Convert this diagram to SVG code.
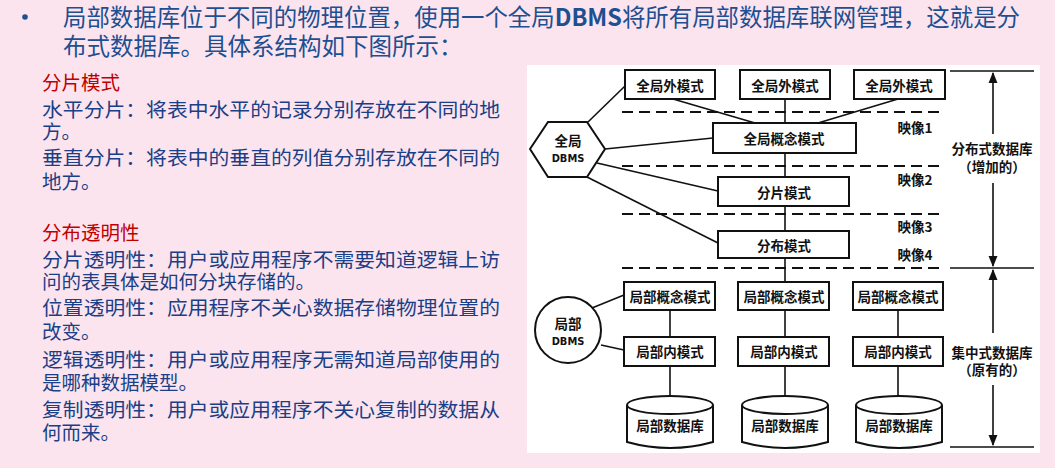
<svg xmlns="http://www.w3.org/2000/svg" width="1055" height="468" viewBox="0 0 1055 468">
<defs>
<style>
.hd{font-family:"Noto Sans CJK SC","Noto Sans",sans-serif;font-size:23.5px;fill:#1d4f91}
.bt{font-family:"Noto Sans CJK SC",sans-serif;font-size:19.5px;fill:#1a3f86}
.rt{font-family:"Noto Sans CJK SC",sans-serif;font-size:19.5px;fill:#c00000}
.bx{fill:#fff;stroke:#111;stroke-width:2}
.lb{font-family:"Noto Sans CJK SC","DejaVu Sans",sans-serif;font-size:13.5px;font-weight:bold;fill:#111;text-anchor:middle;dominant-baseline:central}
.sm{font-family:"DejaVu Sans Condensed","DejaVu Sans",sans-serif;font-size:11px;font-weight:bold;fill:#111;text-anchor:middle;dominant-baseline:central}
.ln{stroke:#111;stroke-width:1.6;fill:none}
.ds{stroke:#111;stroke-width:2;stroke-dasharray:11 6;fill:none}
</style>
<marker id="ah" viewBox="0 0 10 10" refX="9" refY="5" markerWidth="7" markerHeight="9" orient="auto"><path d="M0,1 L10,5 L0,9 z" fill="#111"/></marker>
</defs>
<rect width="1055" height="468" fill="#fce4ef"/>
<g id="text-left">
<circle cx="25" cy="17" r="2.8" fill="#1d4f91"/>
<text class="hd" x="63" y="26" textLength="957" lengthAdjust="spacingAndGlyphs">局部数据库位于不同的物理位置，使用一个全局<tspan font-weight="bold">DBMS</tspan>将所有局部数据库联网管理，这就是分</text>
<text class="hd" x="63" y="55">布式数据库。具体系结构如下图所示：</text>
<text class="rt" x="42" y="90">分片模式</text>
<text class="bt" x="42" y="117" textLength="458" lengthAdjust="spacingAndGlyphs">水平分片：将表中水平的记录分别存放在不同的地</text>
<text class="bt" x="42" y="139">方。</text>
<text class="bt" x="42" y="165" textLength="458" lengthAdjust="spacingAndGlyphs">垂直分片：将表中的垂直的列值分别存放在不同的</text>
<text class="bt" x="42" y="189">地方。</text>
<text class="rt" x="42" y="240">分布透明性</text>
<text class="bt" x="42" y="267" textLength="458" lengthAdjust="spacingAndGlyphs">分片透明性：用户或应用程序不需要知道逻辑上访</text>
<text class="bt" x="42" y="289">问的表具体是如何分块存储的。</text>
<text class="bt" x="42" y="315" textLength="458" lengthAdjust="spacingAndGlyphs">位置透明性：应用程序不关心数据存储物理位置的</text>
<text class="bt" x="42" y="339">改变。</text>
<text class="bt" x="42" y="367" textLength="458" lengthAdjust="spacingAndGlyphs">逻辑透明性：用户或应用程序无需知道局部使用的</text>
<text class="bt" x="42" y="390">是哪种数据模型。</text>
<text class="bt" x="42" y="417" textLength="458" lengthAdjust="spacingAndGlyphs">复制透明性：用户或应用程序不关心复制的数据从</text>
<text class="bt" x="42" y="440">何而来。</text>
</g>
<rect x="527" y="65" width="513" height="388" fill="#fff"/>
<g id="connectors">
<line class="ds" x1="622" y1="112" x2="945" y2="112"/>
<line class="ds" x1="622" y1="166" x2="945" y2="166"/>
<line class="ds" x1="622" y1="214" x2="945" y2="214"/>
<line class="ds" x1="622" y1="268" x2="945" y2="268"/>
<line class="ln" x1="950" y1="71" x2="1034" y2="71"/>
<line class="ln" x1="950" y1="268" x2="1034" y2="268"/>
<line class="ln" x1="950" y1="447" x2="1034" y2="447"/>
<line class="ln" x1="993" y1="134" x2="993" y2="73" marker-end="url(#ah)"/>
<line class="ln" x1="993" y1="183" x2="993" y2="266" marker-end="url(#ah)"/>
<line class="ln" x1="993" y1="333" x2="993" y2="270" marker-end="url(#ah)"/>
<line class="ln" x1="993" y1="385" x2="993" y2="445" marker-end="url(#ah)"/>
<line class="ln" x1="785" y1="99" x2="785" y2="282"/>
<line class="ln" x1="673" y1="99" x2="755" y2="123"/>
<line class="ln" x1="898" y1="99" x2="818" y2="123"/>
<line class="ln" x1="588" y1="122" x2="625" y2="86"/>
<line class="ln" x1="605" y1="149" x2="713" y2="138"/>
<line class="ln" x1="597" y1="163" x2="718" y2="191"/>
<line class="ln" x1="587" y1="177" x2="718" y2="243"/>
<line class="ln" x1="670" y1="310" x2="670" y2="337"/>
<line class="ln" x1="670" y1="366" x2="670" y2="397"/>
<line class="ln" x1="785" y1="310" x2="785" y2="337"/>
<line class="ln" x1="785" y1="366" x2="785" y2="397"/>
<line class="ln" x1="898" y1="310" x2="898" y2="337"/>
<line class="ln" x1="898" y1="366" x2="898" y2="397"/>
<line class="ln" x1="592" y1="308" x2="624" y2="295"/>
<line class="ln" x1="601" y1="345" x2="624" y2="350"/>
</g>
<g id="global-dbms">
<polygon class="bx" points="530,149 548,122 587,122 605,149 587,177 548,177"/>
<text class="lb" x="568" y="140">全局</text>
<text class="sm" x="568" y="158">DBMS</text>
</g>
<g id="ext1"><rect class="bx" x="625" y="70" width="90" height="29"/><text class="lb" x="670" y="85">全局外模式</text></g>
<g id="ext2"><rect class="bx" x="740" y="70" width="90" height="29"/><text class="lb" x="785" y="85">全局外模式</text></g>
<g id="ext3"><rect class="bx" x="854" y="70" width="91" height="29"/><text class="lb" x="899" y="85">全局外模式</text></g>
<g id="gconcept"><rect class="bx" x="713" y="123" width="143" height="30"/><text class="lb" x="784" y="138">全局概念模式</text></g>
<g id="frag"><rect class="bx" x="718" y="177" width="131" height="29"/><text class="lb" x="784" y="192">分片模式</text></g>
<g id="dist"><rect class="bx" x="718" y="231" width="131" height="27"/><text class="lb" x="784" y="245">分布模式</text></g>
<g id="map-labels">
<text class="lb" x="915" y="127">映像1</text>
<text class="lb" x="915" y="179">映像2</text>
<text class="lb" x="915" y="226">映像3</text>
<text class="lb" x="915" y="254">映像4</text>
<text class="lb" x="992" y="148">分布式数据库</text>
<text class="lb" x="992" y="166">（增加的）</text>
<text class="lb" x="992" y="352">集中式数据库</text>
<text class="lb" x="992" y="369">（原有的）</text>
</g>
<g id="local-dbms">
<circle class="bx" cx="568" cy="330" r="33"/>
<text class="lb" x="568" y="323">局部</text>
<text class="sm" x="568" y="341">DBMS</text>
</g>
<g id="lc1"><rect class="bx" x="624" y="282" width="91" height="28"/><text class="lb" x="670" y="296">局部概念模式</text></g>
<g id="lc2"><rect class="bx" x="738" y="282" width="91" height="28"/><text class="lb" x="784" y="296">局部概念模式</text></g>
<g id="lc3"><rect class="bx" x="853" y="282" width="90" height="28"/><text class="lb" x="898" y="296">局部概念模式</text></g>
<g id="li1"><rect class="bx" x="624" y="337" width="91" height="29"/><text class="lb" x="670" y="351">局部内模式</text></g>
<g id="li2"><rect class="bx" x="738" y="337" width="91" height="29"/><text class="lb" x="784" y="351">局部内模式</text></g>
<g id="li3"><rect class="bx" x="853" y="337" width="90" height="29"/><text class="lb" x="898" y="351">局部内模式</text></g>
<g id="db1">
<path class="bx" d="M627,405 L627,442 Q670,454 713,442 L713,405"/>
<ellipse class="bx" cx="670" cy="405" rx="43" ry="9"/>
<text class="lb" x="670" y="425">局部数据库</text>
</g>
<g id="db2">
<path class="bx" d="M742,405 L742,442 Q785,454 828,442 L828,405"/>
<ellipse class="bx" cx="785" cy="405" rx="43" ry="9"/>
<text class="lb" x="785" y="425">局部数据库</text>
</g>
<g id="db3">
<path class="bx" d="M856,405 L856,442 Q899,454 942,442 L942,405"/>
<ellipse class="bx" cx="899" cy="405" rx="43" ry="9"/>
<text class="lb" x="899" y="425">局部数据库</text>
</g>
</svg>
